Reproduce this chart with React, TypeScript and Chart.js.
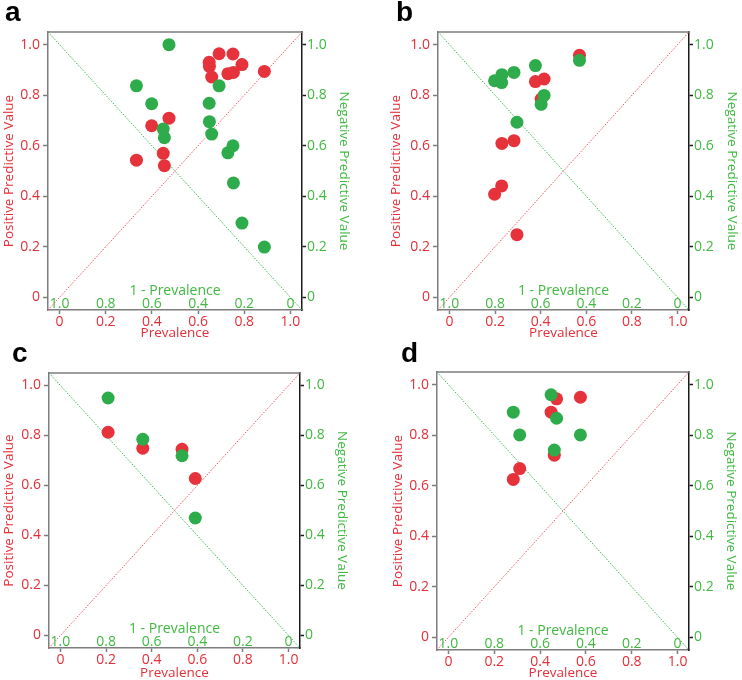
import React, { useEffect, useRef } from 'react';
import { Chart, registerables } from 'chart.js';

Chart.register(...registerables);

// ---------- data ----------
const TICK_VALUES = [0, 0.2, 0.4, 0.6, 0.8, 1.0];
const TICK_LABELS = ['0', '0.2', '0.4', '0.6', '0.8', '1.0'];
const INV_TICK_LABELS = ['1.0', '0.8', '0.6', '0.4', '0.2', '0'];
const AXIS_MIN = -0.05;
const AXIS_MAX = 1.05;

const prevalenceA = [0.333, 0.399, 0.474, 0.449, 0.454, 0.648, 0.649, 0.659, 0.691, 0.751, 0.729, 0.753, 0.790, 0.887];
const ppvA = [0.543, 0.679, 0.709, 0.570, 0.521, 0.930, 0.914, 0.872, 0.964, 0.963, 0.885, 0.890, 0.921, 0.894];
const npvA = [0.837, 0.766, 1.0, 0.666, 0.632, 0.768, 0.695, 0.646, 0.837, 0.600, 0.572, 0.453, 0.294, 0.199];

const prevalenceB = [0.570, 0.377, 0.415, 0.402, 0.230, 0.283, 0.198, 0.229, 0.296];
const ppvB = [0.958, 0.854, 0.864, 0.785, 0.609, 0.620, 0.408, 0.441, 0.248];
const npvB = [0.938, 0.917, 0.799, 0.764, 0.881, 0.890, 0.857, 0.850, 0.693];

const prevalenceC = [0.209, 0.361, 0.533, 0.591];
const ppvC = [0.813, 0.749, 0.745, 0.628];
const npvC = [0.950, 0.785, 0.719, 0.470];

const prevalenceD = [0.472, 0.576, 0.448, 0.462, 0.311, 0.283];
const ppvD = [0.944, 0.950, 0.891, 0.721, 0.668, 0.625];
const npvD = [0.867, 0.801, 0.960, 0.741, 0.801, 0.891];

// ---------- styles ----------
const RED = '#e5323b';
const RED_TEXT = '#e42f38';
const GREEN_DOT = '#2eab4a';
const GREEN_TEXT = '#40b941';
const FRAME = '#7d7d7d';
const DARK = '#1a1a1a';
const FONT = '"Open Sans", "Noto Sans", sans-serif';
const W = 371;
const H = 340;

const PANELS = [
  { letter: 'a', left: 0, top: 0, area: { l: 48, t: 32, r: 302, b: 310 }, lpos: [5, 21], lPad: 1, rPad: 19, prev: prevalenceA, ppv: ppvA, npv: npvA },
  { letter: 'b', left: 371, top: 0, area: { l: 67, t: 32, r: 318, b: 310 }, lpos: [25, 21], lPad: 17, rPad: 2, prev: prevalenceB, ppv: ppvB, npv: npvB },
  { letter: 'c', left: 0, top: 340, area: { l: 49, t: 33, r: 300, b: 308 }, lpos: [12, 22], lPad: 1, rPad: 21, prev: prevalenceC, ppv: ppvC, npv: npvC },
  { letter: 'd', left: 371, top: 340, area: { l: 66, t: 32, r: 318, b: 310 }, lpos: [30, 22], lPad: 19, rPad: 3, prev: prevalenceD, ppv: ppvD, npv: npvD },
];

function labelFor(v: number): string {
  const i = TICK_VALUES.findIndex((t) => Math.abs(t - v) < 1e-6);
  return i >= 0 ? TICK_LABELS[i] : '';
}

const setTicks = (s: any) => {
  s.ticks = TICK_VALUES.map((v) => ({ value: v }));
};

const extrasPlugin = {
  id: 'panelExtras',
  afterDraw(chart: any, _args: any, opts: any) {
    const { ctx, chartArea, scales } = chart;
    const x = scales.x;
    ctx.save();
    // top frame
    ctx.strokeStyle = FRAME;
    ctx.lineWidth = 1.5;
    ctx.beginPath();
    ctx.moveTo(chartArea.left, chartArea.top);
    ctx.lineTo(chartArea.right + 1, chartArea.top);
    ctx.stroke();
    // inner "1 - Prevalence" axis
    ctx.fillStyle = GREEN_TEXT;
    ctx.font = '14px ' + FONT;
    ctx.textAlign = 'center';
    ctx.textBaseline = 'middle';
    TICK_VALUES.forEach((v, i) => {
      ctx.fillText(INV_TICK_LABELS[i], x.getPixelForValue(v), chartArea.bottom - 6);
    });
    ctx.fillText('1 - Prevalence', (chartArea.left + chartArea.right) / 2, chartArea.bottom - 19);
    // panel letter
    ctx.fillStyle = '#000';
    ctx.font = 'bold 28px "Liberation Sans", Arial, sans-serif';
    ctx.textAlign = 'left';
    ctx.textBaseline = 'alphabetic';
    ctx.fillText(opts.letter, opts.lx, opts.ly);
    ctx.restore();
  },
};

function Panel({ cfg }: { cfg: any }) {
  const ref = useRef<HTMLCanvasElement | null>(null);
  useEffect(() => {
    if (!ref.current) return;
    const ppvPts = cfg.prev.map((p: number, i: number) => ({ x: p, y: cfg.ppv[i] }));
    const npvPts = cfg.prev.map((p: number, i: number) => ({ x: p, y: cfg.npv[i] }));
    const tickFont = { family: FONT, size: 14 };
    const titleFont = { family: FONT, size: 13.5 };
    const chart = new Chart(ref.current, {
      type: 'scatter',
      data: {
        datasets: [
          { label: 'NPV', data: npvPts, yAxisID: 'y2', backgroundColor: GREEN_DOT, pointBackgroundColor: GREEN_DOT, pointBorderWidth: 0, pointRadius: 6.5, order: 0 } as any,
          { label: 'PPV', data: ppvPts, yAxisID: 'y', backgroundColor: RED, pointBackgroundColor: RED, pointBorderWidth: 0, pointRadius: 6.5, order: 1 } as any,
          { label: 'diagUp', data: [{ x: AXIS_MIN, y: AXIS_MIN }, { x: AXIS_MAX, y: AXIS_MAX }], yAxisID: 'y', showLine: true, borderColor: '#ec5560', borderWidth: 1, borderDash: [1.5, 1.5], pointRadius: 0, order: 2 } as any,
          { label: 'diagDown', data: [{ x: AXIS_MIN, y: AXIS_MAX }, { x: AXIS_MAX, y: AXIS_MIN }], yAxisID: 'y', showLine: true, borderColor: '#3cb54a', borderWidth: 1, borderDash: [1.5, 1.5], pointRadius: 0, order: 2 } as any,
        ],
      },
      options: {
        responsive: false,
        animation: false,
        devicePixelRatio: 1,
        events: [],
        layout: { padding: { top: cfg.area.t, left: 0, right: 0, bottom: 0 } },
        plugins: {
          legend: { display: false },
          tooltip: { enabled: false },
          panelExtras: { letter: cfg.letter, lx: cfg.lpos[0], ly: cfg.lpos[1] },
        } as any,
        scales: {
          x: {
            type: 'linear',
            position: 'bottom',
            min: AXIS_MIN,
            max: AXIS_MAX,
            afterBuildTicks: setTicks,
            afterFit: (s: any) => { s.height = H - cfg.area.b; },
            ticks: { color: RED_TEXT, font: tickFont, padding: 0, maxRotation: 0, autoSkip: false, callback: (v: any) => labelFor(Number(v)) },
            grid: { drawOnChartArea: false, drawTicks: true, tickLength: 4, tickColor: FRAME, tickWidth: 1.5 },
            border: { color: FRAME, width: 1.5 },
            title: { display: true, text: 'Prevalence', color: RED_TEXT, font: titleFont, padding: { top: 0, bottom: -1 } },
          },
          y: {
            type: 'linear',
            position: 'left',
            min: AXIS_MIN,
            max: AXIS_MAX,
            afterBuildTicks: setTicks,
            afterFit: (s: any) => { s.width = cfg.area.l; },
            ticks: { color: RED_TEXT, font: tickFont, padding: 3, callback: (v: any) => labelFor(Number(v)) },
            grid: { drawOnChartArea: false, drawTicks: true, tickLength: 5, tickColor: FRAME, tickWidth: 1.5 },
            border: { color: FRAME, width: 1.5 },
            title: { display: true, text: 'Positive Predictive Value', color: RED_TEXT, font: titleFont, padding: { top: cfg.lPad, bottom: 0 } },
          },
          y2: {
            type: 'linear',
            position: 'right',
            min: AXIS_MIN,
            max: AXIS_MAX,
            afterBuildTicks: setTicks,
            afterFit: (s: any) => { s.width = W - cfg.area.r; },
            ticks: { color: GREEN_TEXT, font: tickFont, padding: 1, callback: (v: any) => labelFor(Number(v)) },
            grid: { drawOnChartArea: false, drawTicks: true, tickLength: 4, tickColor: DARK, tickWidth: 1.5 },
            border: { color: DARK, width: 1.5 },
            title: { display: true, text: 'Negative Predictive Value', color: GREEN_TEXT, font: titleFont, padding: { top: cfg.rPad, bottom: 0 } },
          },
        },
      } as any,
      plugins: [extrasPlugin],
    });
    return () => chart.destroy();
  }, [cfg]);
  return (
    <canvas
      ref={ref}
      width={W}
      height={H}
      style={{ position: 'absolute', left: cfg.left, top: cfg.top, width: W, height: H }}
    />
  );
}

export default function App() {
  return (
    <div style={{ position: 'absolute', left: 0, top: 0, width: 742, height: 680, background: '#fff', overflow: 'hidden' }}>
      {PANELS.map((p) => (
        <Panel key={p.letter} cfg={p} />
      ))}
    </div>
  );
}
